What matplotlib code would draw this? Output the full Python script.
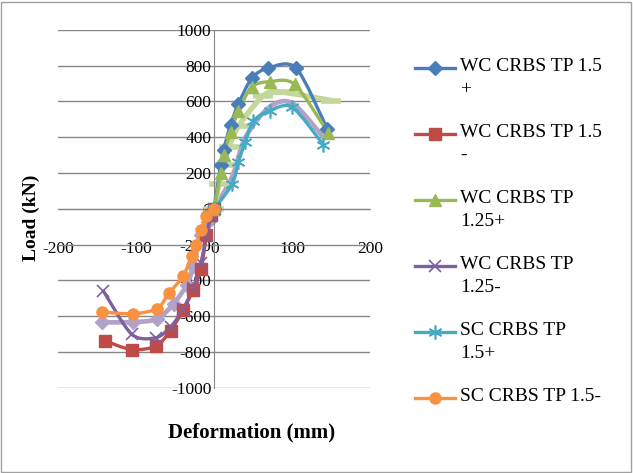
import matplotlib
matplotlib.use("Agg")
import matplotlib.pyplot as plt
from matplotlib.patches import Rectangle, PathPatch
from matplotlib.path import Path
from matplotlib.lines import Line2D

plt.rcParams['font.family'] = ['Liberation Serif', 'DejaVu Serif']
plt.rcParams['axes.unicode_minus'] = False

# envelope curves, deformation (mm) vs load (kN)
wc15p_x = [0, 8, 12, 21, 31, 48, 69, 105, 145]
wc15p_y = [0, 243, 329, 471, 586, 729, 786, 786, 445]

wc15n_x = [0, -4, -10, -17, -27, -40, -56, -75, -106, -140]
wc15n_y = [0, -33, -147, -338, -453, -567, -681, -767, -786, -738]

wc125p_x = [0, 8, 12, 21, 31, 48, 71, 103, 146]
wc125p_y = [0, 200, 300, 430, 545, 681, 710, 695, 425]

wc125n_x = [0, -4, -10, -17, -27, -40, -56, -75, -106, -142]
wc125n_y = [0, -40, -150, -300, -440, -560, -660, -720, -700, -460]

sc15p_x = [0, 23, 31, 40, 50, 71, 100, 140]
sc15p_y = [0, 138, 262, 376, 490, 548, 567, 357]

sc15n_x = [0, -10, -17, -23, -29, -40, -58, -73, -104, -144]
sc15n_y = [0, -40, -120, -200, -262, -376, -471, -557, -586, -576]

# two more series drawn in lighter tones
extra1_x = [0, 6, 12, 19, 31, 63, 86, 150]
extra1_y = [0, 138, 243, 347, 462, 633, 652, 605]

extra2_x = [-144, -104, -73, -52, -35, -27, -17, -8, 0, 23, 40, 71, 100, 140]
extra2_y = [-633, -633, -615, -529, -424, -319, -147, -71, 0, 180, 400, 570, 590, 400]

labels = ['WC CRBS TP 1.5\n+', 'WC CRBS TP 1.5\n-', 'WC CRBS TP\n1.25+',
          'WC CRBS TP\n1.25-', 'SC CRBS TP\n1.5+', 'SC CRBS TP 1.5-']


def smooth_path(xs, ys, k=7.0):
    # cubic bezier through every point, like a spreadsheet "smoothed line"
    pts = list(zip(xs, ys))
    verts = [pts[0]]
    codes = [Path.MOVETO]
    n = len(pts)
    for i in range(n - 1):
        p0 = pts[i - 1] if i > 0 else pts[i]
        p1 = pts[i]
        p2 = pts[i + 1]
        p3 = pts[i + 2] if i + 2 < n else pts[i + 1]
        c1 = (p1[0] + (p2[0] - p0[0]) / k, p1[1] + (p2[1] - p0[1]) / k)
        c2 = (p2[0] - (p3[0] - p1[0]) / k, p2[1] - (p3[1] - p1[1]) / k)
        verts += [c1, c2, p2]
        codes += [Path.CURVE4] * 3
    return Path(verts, codes)


def draw_series(ax, xs, ys, color, lw, z, **mk):
    ax.add_patch(PathPatch(smooth_path(xs, ys), fill=False, edgecolor=color,
                           lw=lw, capstyle='round', joinstyle='round', zorder=z))
    ax.plot(xs, ys, ls='none', color=color, zorder=z + 0.1, **mk)


fig = plt.figure(figsize=(6.33, 4.73), dpi=100)
ax = fig.add_axes([0.092, 0.180, 0.493, 0.757])

lw = 2.4
styles = [
    dict(color='#4A7EBB', marker='D', ms=7),
    dict(color='#BE4B48', marker='s', ms=9),
    dict(color='#98B954', marker='^', ms=9),
    dict(color='#7D60A0', marker='x', ms=9, mew=1.2),
    dict(color='#46AAC5', marker=(6, 2, 0), ms=10, mew=1.2),
    dict(color='#F69240', marker='o', ms=8),
]

draw_series(ax, extra2_x, extra2_y, '#B3A2C7', lw + 1, 2, marker='D', ms=7,
            markevery=list(range(9)))
draw_series(ax, extra1_x, extra1_y, '#C3D69B', lw + 1.5, 2, marker='_', ms=14, mew=4)

series = [(wc15p_x, wc15p_y), (wc15n_x, wc15n_y), (wc125p_x, wc125p_y),
          (wc125n_x, wc125n_y), (sc15p_x, sc15p_y), (sc15n_x, sc15n_y)]
for (xs, ys), st in zip(series, styles):
    st = dict(st)
    col = st.pop('color')
    draw_series(ax, xs, ys, col, lw, 3, **st)

ax.set_xlim(-200, 200)
ax.set_ylim(-1000, 1000)
ax.set_xticks([-200, -100, 0, 100, 200])
ax.set_yticks(range(-1000, 1001, 200))
ax.yaxis.grid(True, color='#868686', lw=1)
ax.set_axisbelow(True)

for side in ['top', 'right']:
    ax.spines[side].set_visible(False)
ax.spines['left'].set_position(('data', 0))
ax.spines['bottom'].set_position(('data', 0))
ax.spines['left'].set_color('#868686')
ax.spines['bottom'].set_color('#868686')
ax.tick_params(axis='both', length=0, labelsize=12.5)
ax.tick_params(axis='x', pad=23)
ax.tick_params(axis='y', pad=2)

fig.text(0.049, 0.539, 'Load (kN)', rotation=90, fontsize=14, fontweight='bold',
         ha='center', va='center')
fig.text(0.397, 0.085, 'Deformation (mm)', fontsize=15, fontweight='bold',
         ha='center', va='center')

# legend on the right, handle level with the first line of each label
leg_x0, leg_x1 = 415 / 633, 455 / 633
top_px = 68
step_px = 66
for i, (lab, st) in enumerate(zip(labels, styles)):
    y = 1 - (top_px + i * step_px) / 473
    st = dict(st)
    col = st.pop('color')
    fig.add_artist(Line2D([leg_x0, leg_x1], [y, y], color=col, lw=lw,
                          transform=fig.transFigure))
    fig.add_artist(Line2D([(leg_x0 + leg_x1) / 2], [y], color=col, ls='none',
                          transform=fig.transFigure, **st))
    fig.text(460 / 633, y + 10 / 473, lab, fontsize=14, ha='left', va='top',
             linespacing=1.45)

fig.patches.append(Rectangle((0.002, 0.003), 0.995, 0.993, transform=fig.transFigure,
                             fill=False, edgecolor='#A0A0A0', lw=1))

fig.savefig('out.png', dpi=100)
